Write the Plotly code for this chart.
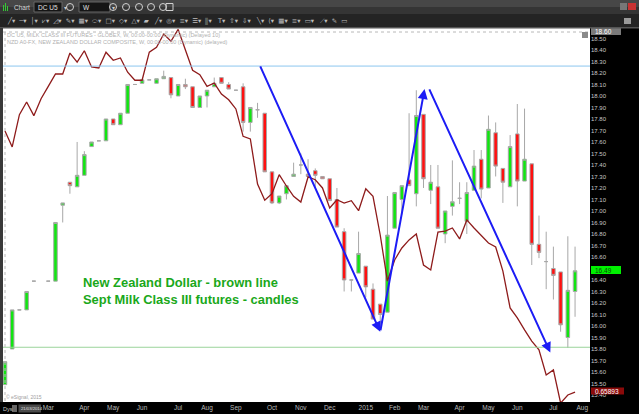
import plotly.graph_objects as go
import pandas as pd

# ---------------- data ----------------
week_start = "2014-01-20"
n_weeks = 80
weeks = pd.date_range(week_start, periods=n_weeks, freq="7D")

milk_open = [15.49, 15.80, 16.14, 16.14, 16.39, None, 16.39, 16.39, 17.05, 17.25,
             17.21, 17.31, 17.56, 17.61, 17.61, 17.80, 17.75, 17.85, 18.10, 18.11,
             18.14, 18.11, 18.15, 18.16, 18.00, 18.10, 18.08, 17.90, 18.00, 18.08,
             18.16, 18.10, 18.05, 18.08, 17.77, 17.88, 17.85, 17.34, 17.07, 17.15,
             17.30, 17.40, 17.32, 17.35, 17.30, 17.28, 17.10, 16.82, 16.40, 16.46,
             16.52, 16.32, 16.19, 16.12, 16.85, 17.10, 17.27, 17.15, 17.84, 17.18,
             17.21, 16.80, 17.04, 17.11, 16.91, 17.18, 17.45, 17.20, 17.68, 17.37,
             17.21, 17.67, 17.26, 17.41, 16.71, 16.56, 16.50, 16.47, 15.90, 16.30]
milk_high = [15.69, 16.14, 16.14, 16.30, 16.39, None, 16.39, 16.90, 17.07, 17.25,
             17.60, 17.52, 17.60, 17.61, 17.80, 17.80, 17.85, 18.10, 18.10, 18.14,
             18.14, 18.15, 18.22, 18.16, 18.10, 18.15, 18.08, 18.00, 18.05, 18.16,
             18.16, 18.12, 18.05, 18.11, 17.90, 17.94, 17.85, 17.34, 17.13, 17.22,
             17.42, 17.50, 17.45, 17.37, 17.30, 17.28, 17.20, 16.85, 16.40, 16.82,
             16.52, 16.37, 16.19, 17.13, 17.16, 17.22, 17.85, 18.05, 17.84, 17.40,
             17.40, 17.00, 17.44, 17.25, 17.25, 17.53, 17.53, 17.83, 17.77, 17.37,
             17.66, 17.93, 17.89, 17.41, 16.96, 16.82, 16.69, 16.47, 16.78, 16.69]
milk_low = [15.49, 15.80, 16.14, 16.14, 16.39, None, 16.39, 16.39, 16.90, 17.15,
            17.21, 17.31, 17.56, 17.61, 17.61, 17.75, 17.75, 17.85, 18.10, 18.11,
            18.14, 18.11, 18.15, 17.98, 18.00, 18.06, 17.90, 17.90, 17.90, 18.08,
            18.11, 18.06, 18.05, 17.69, 17.69, 17.81, 17.34, 17.06, 17.06, 17.10,
            17.30, 17.32, 17.30, 17.21, 17.28, 17.09, 16.86, 16.30, 16.30, 16.46,
            16.25, 16.06, 15.98, 16.12, 16.85, 16.97, 17.22, 17.04, 17.20, 17.06,
            16.85, 16.72, 16.96, 17.06, 16.80, 17.18, 17.11, 17.20, 17.30, 17.07,
            17.21, 17.04, 17.26, 16.53, 16.59, 16.32, 16.23, 15.95, 15.81, 16.08]
milk_close = [15.69, 16.14, 16.14, 16.30, 16.39, None, 16.39, 16.90, 17.07, 17.22,
              17.31, 17.49, 17.60, 17.61, 17.80, 17.75, 17.85, 18.10, 18.10, 18.14,
              18.14, 18.15, 18.17, 18.01, 18.10, 18.08, 17.90, 18.00, 18.05, 18.11,
              18.11, 18.06, 18.05, 17.77, 17.90, 17.88, 17.34, 17.07, 17.13, 17.22,
              17.32, 17.40, 17.30, 17.31, 17.28, 17.09, 16.86, 16.40, 16.40, 16.63,
              16.34, 16.06, 16.10, 16.79, 17.16, 17.22, 17.22, 17.83, 17.28, 17.25,
              16.85, 17.00, 17.08, 17.11, 17.16, 17.39, 17.19, 17.71, 17.39, 17.25,
              17.56, 17.26, 17.45, 16.71, 16.64, 16.56, 16.44, 16.01, 16.31, 16.48]
nzd_close = [0.8181, 0.8084, 0.8281, 0.8358, 0.8275, 0.8378, 0.8454, 0.8529, 0.8529, 0.8657,
             0.8601, 0.8671, 0.8572, 0.8566, 0.8662, 0.8613, 0.8627, 0.8540, 0.8491, 0.8491,
             0.8662, 0.8692, 0.8773, 0.8729, 0.8801, 0.8676, 0.8552, 0.8525, 0.8454, 0.8474,
             0.8407, 0.8372, 0.8316, 0.8149, 0.8133, 0.7858, 0.7759, 0.7799, 0.7915, 0.7846,
             0.7783, 0.7748, 0.7901, 0.7884, 0.7834, 0.7712, 0.7762, 0.7742, 0.7756, 0.7695,
             0.7829, 0.7783, 0.7547, 0.7266, 0.7395, 0.7468, 0.7517, 0.7553, 0.7364, 0.7334,
             0.7565, 0.7571, 0.7590, 0.7523, 0.7639, 0.7590, 0.7541, 0.7498, 0.7474, 0.7327,
             0.7102, 0.7041, 0.6968, 0.6900, 0.6846, 0.6693, 0.6724, 0.6522, 0.6571, 0.6589]

month_ticks = ["2014-03-03", "2014-04-07", "2014-05-05", "2014-06-02", "2014-07-07",
               "2014-08-04", "2014-09-01", "2014-10-06", "2014-11-03", "2014-12-01",
               "2015-01-05", "2015-02-02", "2015-03-02", "2015-04-06", "2015-05-04",
               "2015-06-01", "2015-07-06", "2015-08-03"]
month_labels = ["Mar", "Apr", "May", "Jun", "Jul", "Aug", "Sep", "Oct", "Nov", "Dec",
                "2015", "Feb", "Mar", "Apr", "May", "Jun", "Jul", "Aug"]
price_ticks = [round(15.4 + 0.1 * i, 2) for i in range(32)]

resistance_level = 18.26
support_level = 15.815
last_milk = 16.49
last_nzd = 0.65893

# trend lines drawn on chart: (start date, start price, end date, end price)
trend_lines = [("2014-09-24", 18.27, "2015-01-19", 15.95),
               ("2015-01-19", 15.95, "2015-03-03", 18.06),
               ("2015-03-07", 18.07, "2015-07-03", 15.77)]

# ---------------- helpers (pixel -> paper) ----------------
PL, PR, PT, PB = 3, 590, 28, 402
def px(x):
    return (x - PL) / (PR - PL)
def py(y):
    return (PB - y) / (PB - PT)

df = pd.DataFrame({"d": weeks, "o": milk_open, "h": milk_high,
                   "l": milk_low, "c": milk_close}).dropna()
doji = df[df.o == df.c]
body = df[df.o != df.c]

fig = go.Figure()

GREEN = "#11e611"
RED = "#ff1010"
WICK = "#a8a8a8"

fig.add_trace(go.Candlestick(
    x=body.d, open=body.o, high=body.h, low=body.l, close=body.c,
    increasing=dict(line=dict(color=WICK, width=1), fillcolor=GREEN),
    decreasing=dict(line=dict(color=WICK, width=1), fillcolor=RED),
    whiskerwidth=0, showlegend=False, hoverinfo="skip"))
fig.add_trace(go.Candlestick(
    x=doji.d, open=doji.o, high=doji.h, low=doji.l, close=doji.c,
    increasing=dict(line=dict(color=WICK, width=1), fillcolor=WICK),
    decreasing=dict(line=dict(color=WICK, width=1), fillcolor=WICK),
    whiskerwidth=0, showlegend=False, hoverinfo="skip"))
fig.add_trace(go.Scatter(
    x=weeks, y=nzd_close, mode="lines", yaxis="y2",
    line=dict(color="#8e1b1b", width=1.3), showlegend=False, hoverinfo="skip"))

shapes = []
annotations = []

# horizontal levels
shapes.append(dict(type="line", xref="paper", x0=0, x1=1, yref="y",
                   y0=resistance_level, y1=resistance_level,
                   line=dict(color="#8cc6ef", width=1)))
shapes.append(dict(type="line", xref="paper", x0=0, x1=1, yref="y",
                   y0=support_level, y1=support_level,
                   line=dict(color="#9ad49a", width=1)))

# trend lines (arrows)
for (d0, p0, d1, p1) in trend_lines:
    annotations.append(dict(x=d1, y=p1, ax=d0, ay=p0, xref="x", yref="y",
                            axref="x", ayref="y", showarrow=True, text="",
                            arrowhead=2, arrowsize=1, arrowwidth=2,
                            arrowcolor="#1c1cf5"))

# dashed guides
shapes.append(dict(type="line", xref="paper", yref="paper", x0=0, x1=1,
                   y0=py(32), y1=py(32), line=dict(color="#b8b8b8", width=1, dash="dot")))
shapes.append(dict(type="line", xref="paper", yref="paper", x0=px(5), x1=px(5),
                   y0=py(32), y1=0, line=dict(color="#b8b8b8", width=1, dash="dot")))
shapes.append(dict(type="rect", xref="paper", yref="paper", x0=px(582), x1=px(588),
                   y0=py(38), y1=py(32), fillcolor="#8a8a8a", line=dict(width=0)))

# header texts inside chart
annotations.append(dict(xref="paper", yref="paper", x=px(5), y=py(35), xanchor="left",
                        yanchor="middle", showarrow=False,
                        text="DC U5, MILK CLASS III FUTURES - GLOBEX, W, 00:00-00:00 (Dynamic) (Delayed 10)",
                        font=dict(size=5.5, color="#b0b0b0", family="Arial")))
annotations.append(dict(xref="paper", yref="paper", x=px(5), y=py(41.5), xanchor="left",
                        yanchor="middle", showarrow=False,
                        text="NZD A0-FX, NEW ZEALAND DOLLAR COMPOSITE, W, 00:00-00:00 (Dynamic) (delayed)",
                        font=dict(size=5.5, color="#b0b0b0", family="Arial")))
annotations.append(dict(xref="paper", yref="paper", x=px(4), y=py(397), xanchor="left",
                        yanchor="middle", showarrow=False, text="© eSignal, 2015",
                        font=dict(size=5, color="#a0a0a0", family="Arial")))

# legend text
annotations.append(dict(xref="paper", yref="paper", x=px(81), y=py(291), xanchor="left",
                        yanchor="middle", showarrow=False, align="left",
                        text="<b>New Zealand Dollar - brown line<br>Sept Milk Class III futures - candles</b>",
                        font=dict(size=12.9, color="#1aa81a", family="Liberation Sans, Arial")))

# price markers on right axis
def axis_box(y, text, bg, fg, x0=591, x1=621, h=4):
    shapes.append(dict(type="rect", xref="paper", yref="paper", x0=px(x0), x1=px(x1),
                       y0=py(y + h), y1=py(y - h), fillcolor=bg, line=dict(width=0)))
    annotations.append(dict(xref="paper", yref="paper", x=px(x0 + 2), y=py(y), xanchor="left",
                            yanchor="middle", showarrow=False, text=text,
                            font=dict(size=6.5, color=fg, family="Arial")))

axis_box(31, "18.60", "#7a7a7a", "#ffffff")
axis_box(270, f"{last_milk:.2f}", "#00f000", "#0a4a0a")
axis_box(391, f"{last_nzd:.5f}", "#8b0a0a", "#ffffff", x1=624, h=3.5)

# ---------------- toolbar ----------------
shapes.append(dict(type="rect", xref="paper", yref="paper", x0=px(0), x1=px(639),
                   y0=py(0), y1=py(7), fillcolor="#474747", line=dict(width=0)))
shapes.append(dict(type="rect", xref="paper", yref="paper", x0=px(0), x1=px(639),
                   y0=py(7), y1=py(14), fillcolor="#353535", line=dict(width=0)))
shapes.append(dict(type="rect", xref="paper", yref="paper", x0=px(0), x1=px(639),
                   y0=py(14), y1=py(28), fillcolor="#242424", line=dict(width=0)))
shapes.append(dict(type="rect", xref="paper", yref="paper", x0=px(0), x1=px(639),
                   y0=py(27), y1=py(28.5), fillcolor="#555555", line=dict(width=0)))
# chart icon
for i, h in enumerate([6, 8, 5]):
    shapes.append(dict(type="rect", xref="paper", yref="paper", x0=px(3 + i * 2), x1=px(4 + i * 2),
                       y0=py(11), y1=py(11 - h), fillcolor="#33cc33", line=dict(width=0)))
annotations.append(dict(xref="paper", yref="paper", x=px(12), y=py(7), xanchor="left",
                        yanchor="middle", showarrow=False, text="Chart",
                        font=dict(size=6.5, color="#d8d8d8", family="Arial")))
for (x0, x1, t) in [(34, 62, "DC U5"), (79, 110, "W")]:
    shapes.append(dict(type="rect", xref="paper", yref="paper", x0=px(x0), x1=px(x1),
                       y0=py(12), y1=py(2), fillcolor="#151515",
                       line=dict(color="#666666", width=1)))
    annotations.append(dict(xref="paper", yref="paper", x=px(x0 + 2), y=py(7), xanchor="left",
                            yanchor="middle", showarrow=False, text=t,
                            font=dict(size=6.5, color="#e0e0e0", family="Arial")))
    annotations.append(dict(xref="paper", yref="paper", x=px(x1 + 3), y=py(7), xanchor="center",
                            yanchor="middle", showarrow=False, text="▾",
                            font=dict(size=6, color="#cccccc", family="DejaVu Sans")))
for cx in [70, 113, 126, 139, 151, 163]:
    shapes.append(dict(type="circle", xref="paper", yref="paper", x0=px(cx - 3.5), x1=px(cx + 3.5),
                       y0=py(10.5), y1=py(3.5), line=dict(color="#d0d0d0", width=1)))
shapes.append(dict(type="rect", xref="paper", yref="paper", x0=px(166), x1=px(173),
                   y0=py(10.5), y1=py(3.5), line=dict(color="#d0d0d0", width=1)))
shapes.append(dict(type="rect", xref="paper", yref="paper", x0=px(620), x1=px(627),
                   y0=py(10), y1=py(3), fillcolor="#777777", line=dict(width=0)))
shapes.append(dict(type="rect", xref="paper", yref="paper", x0=px(628), x1=px(636),
                   y0=py(10), y1=py(3), fillcolor="#c83232", line=dict(width=0)))
# second row icons
row2 = "╱▾  ─▾  │▾  ⩗▾  ◿▾  ✎▾  ▦▾  ⬭▾  □▾  ◇▾  △▾  ▰   ╱▾  ◎▾  ≡▾  ☰▾  ⫼▾   T▾  ⇧▾  ⇩▾   ╲▾  ⟨▾  ▦▾  ≡▾  ▭▾   ⟋▾  ✎  ▭"
annotations.append(dict(xref="paper", yref="paper", x=px(5), y=py(21), xanchor="left",
                        yanchor="middle", showarrow=False, text=row2,
                        font=dict(size=6.5, color="#bdbdbd", family="DejaVu Sans")))
shapes.append(dict(type="rect", xref="paper", yref="paper", x0=px(624), x1=px(631),
                   y0=py(24), y1=py(18), fillcolor="#9a9a9a", line=dict(width=0)))

# bottom bar items
annotations.append(dict(xref="paper", yref="paper", x=px(0.5), y=py(408.5), xanchor="left",
                        yanchor="middle", showarrow=False, text="Dys",
                        font=dict(size=5.5, color="#c8c8c8", family="Arial")))
shapes.append(dict(type="rect", xref="paper", yref="paper", x0=px(12), x1=px(17),
                   y0=py(412), y1=py(405), fillcolor="#666666", line=dict(width=0)))
shapes.append(dict(type="rect", xref="paper", yref="paper", x0=px(18.5), x1=px(41),
                   y0=py(412.5), y1=py(404.5), fillcolor="#4a4a4a", line=dict(width=0)))
annotations.append(dict(xref="paper", yref="paper", x=px(19), y=py(408.5), xanchor="left",
                        yanchor="middle", showarrow=False, text="21/03/2014",
                        font=dict(size=4.2, color="#e0e0e0", family="Arial")))
# left border
shapes.append(dict(type="rect", xref="paper", yref="paper", x0=px(0), x1=px(3),
                   y0=py(402), y1=py(28), fillcolor="#3a3a3a", line=dict(width=0)))

price_text = ["" if abs(v - last_milk) < 0.05 else f"{v:.2f}" for v in price_ticks]

fig.update_layout(
    width=639, height=414,
    margin=dict(l=PL, r=639 - PR, t=PT, b=414 - PB, pad=0),
    paper_bgcolor="#000000", plot_bgcolor="#ffffff",
    showlegend=False, hovermode=False,
    shapes=shapes, annotations=annotations,
    xaxis=dict(type="date", range=["2014-01-18 02:00", "2015-08-10 12:00"],
               tickmode="array", tickvals=month_ticks, ticktext=month_labels,
               tickfont=dict(size=6.5, color="#b8b8b8", family="Arial"),
               showgrid=False, zeroline=False, showline=False, ticks="",
               rangeslider=dict(visible=False), fixedrange=True),
    yaxis=dict(side="right", range=[15.339, 18.591], tickmode="array",
               tickvals=price_ticks, ticktext=price_text,
               tickfont=dict(size=6, color="#c8c8c8", family="Arial"),
               showgrid=False, zeroline=False, showline=False, ticks="", fixedrange=True),
    yaxis2=dict(overlaying="y", side="right", range=[0.65283, 0.88097],
                visible=False, fixedrange=True),
)

fig.write_html("out.html", config={"displayModeBar": False},
               post_script="document.body.style.margin='0px';document.body.style.overflow='hidden';")
